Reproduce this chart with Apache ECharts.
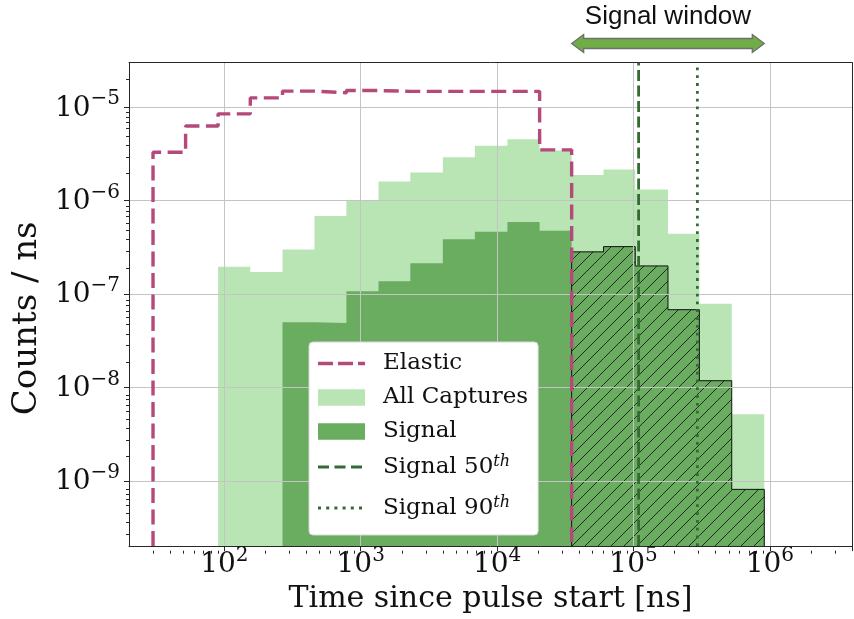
<!DOCTYPE html>
<html>
<head>
<meta charset="utf-8">
<script src="https://cdn.jsdelivr.net/npm/echarts@6/dist/echarts.min.js"></script>
<style>
  html, body { margin: 0; padding: 0; background: #ffffff; }
  #chart { width: 854px; height: 619px; }
</style>
</head>
<body>
<div id="chart"></div>
<script>
// Histogram bin edges [ns], shared by every histogram
const binEdges = [30, 52, 90, 155, 267, 458, 785, 1350, 2310, 4000, 6870, 11900,
                  20500, 35200, 60300, 103000, 179000, 304000, 525000, 910000];

// Rate in each bin [counts / ns]; null marks an empty bin
const elasticRate = [3.3e-6, 6.3e-6, 8.5e-6, 1.26e-5, 1.49e-5, 1.43e-5, 1.51e-5, 1.48e-5,
                     1.48e-5, 1.48e-5, 1.48e-5, 1.48e-5, 3.5e-6,
                     null, null, null, null, null, null];
const captureRate = [null, null, 1.96e-7, 1.72e-7, 2.99e-7, 6.87e-7, 9.9e-7, 1.6e-6,
                     2.0e-6, 2.92e-6, 3.86e-6, 4.54e-6, 3.45e-6,
                     1.88e-6, 2.15e-6, 1.32e-6, 4.43e-7, 7.87e-8, 5.16e-9];
const signalRate  = [null, null, null, null, 5.0e-8, 4.9e-8, 1.07e-7, 1.37e-7,
                     2.14e-7, 3.85e-7, 4.65e-7, 5.89e-7, 4.77e-7,
                     2.83e-7, 3.22e-7, 2.0e-7, 6.8e-8, 1.18e-8, 8.1e-10];

// Signal time window [ns] and signal arrival-time percentiles [ns]
const signalWindow = [35200, 910000];
const signal50th = 1.09e5;
const signal90th = 2.94e5;

// Axis ranges and labelled ticks
const xRange = [20, 4e6];
const yRange = [2e-10, 3e-5];
const xTicks = [1e2, 1e3, 1e4, 1e5, 1e6];
const yTicks = [1e-9, 1e-8, 1e-7, 1e-6, 1e-5];

// ---------------------------------------------------------------------------
const COLORS = {
  elastic: '#b4497a',
  capture: '#b9e5b4',
  signal: '#6aad60',
  percentile: '#346b34',
  hatch: '#1a1a1a',
  grid: '#c4c4c4',
  axis: '#262626'
};
const SERIF = "'DejaVu Serif', serif";

// Minor log ticks (2..9 x 10^n) inside a range
function minorTicks(range) {
  const out = [];
  const lo = Math.floor(Math.log10(range[0])), hi = Math.ceil(Math.log10(range[1]));
  for (let n = lo; n <= hi; n++) {
    for (let k = 2; k <= 9; k++) {
      const v = k * Math.pow(10, n);
      if (v > range[0] * 1.0001 && v < range[1] * 0.9999) out.push(v);
    }
  }
  return out;
}

// Step outline of a histogram (bins fully inside [lo, hi]), closed down to the axis floor
function stepPoints(values, lo, hi) {
  const pts = [];
  for (let i = 0; i < values.length; i++) {
    const v = values[i];
    if (v == null || binEdges[i] < lo || binEdges[i + 1] > hi) continue;
    if (!pts.length) pts.push([binEdges[i], yRange[0]]);
    pts.push([binEdges[i], v], [binEdges[i + 1], v]);
  }
  if (pts.length) pts.push([pts[pts.length - 1][0], yRange[0]]);
  return pts;
}

// Bins [lo, hi, value] inside the signal window
function windowBins() {
  const out = [];
  for (let i = 0; i < signalRate.length; i++) {
    if (signalRate[i] == null) continue;
    if (binEdges[i] >= signalWindow[0] && binEdges[i + 1] <= signalWindow[1]) {
      out.push([binEdges[i], binEdges[i + 1], signalRate[i]]);
    }
  }
  return out;
}

// "10^n" tick labels
function powLabel(value) {
  const e = Math.round(Math.log10(value));
  return '{b|10}{s|' + (e < 0 ? '\u2212' + (-e) : e) + '}';
}
const powRich = {
  b: { fontFamily: SERIF, fontSize: 28, lineHeight: 30, color: '#111', verticalAlign: 'bottom' },
  s: { fontFamily: SERIF, fontSize: 20, lineHeight: 20, color: '#111', verticalAlign: 'bottom', padding: [0, 0, 13, 0] }
};

// Legend icons as paths inside a 60 x 17 box (corner specks fix the box size)
function legendIcon(segments, thick) {
  const W = 60, H = 17, y0 = (H - thick) / 2;
  let d = 'M0,0h0.01v0.01h-0.01z M' + (W - 0.01) + ',' + (H - 0.01) + 'h0.01v0.01h-0.01z';
  segments.forEach(function (s) {
    d += ' M' + s[0] + ',' + y0 + 'H' + s[1] + 'V' + (y0 + thick) + 'H' + s[0] + 'Z';
  });
  return 'path://' + d;
}
const dots90 = [0, 8.2, 16.4, 24.6, 32.8, 41].map(function (x) { return [x, x + 3]; });

const gridRect = { left: 129, top: 62.7, width: 723, height: 488 };

// Frame-only axis (spine) for the top and right edges
function spine(pos, range) {
  return {
    type: 'log', logBase: 10, gridIndex: 1, position: pos, min: range[0], max: range[1], z: 2,
    axisLine: { show: true, onZero: false, lineStyle: { color: COLORS.axis, width: 1 } },
    axisTick: { show: false }, axisLabel: { show: false }, splitLine: { show: false }
  };
}
// Axis carrying only the minor ticks
function minorAxis(pos, range) {
  return {
    type: 'log', logBase: 10, gridIndex: 1, position: pos, min: range[0], max: range[1], z: 2,
    axisLine: { show: false },
    axisTick: { show: true, customValues: minorTicks(range), length: 3, lineStyle: { color: COLORS.axis, width: 1 } },
    axisLabel: { show: false }, splitLine: { show: false }
  };
}

const chart = echarts.init(document.getElementById('chart'), null, { renderer: 'canvas' });

chart.setOption({
  animation: false,
  backgroundColor: '#ffffff',
  textStyle: { fontFamily: SERIF },
  grid: [
    Object.assign({ show: false }, gridRect),
    Object.assign({ show: false }, gridRect)
  ],
  xAxis: [
    {
      type: 'log', logBase: 10, gridIndex: 0, position: 'bottom', min: xRange[0], max: xRange[1], z: 2,
      axisLine: { show: true, onZero: false, lineStyle: { color: COLORS.axis, width: 1 } },
      axisTick: { show: true, customValues: xTicks, length: 5, lineStyle: { color: COLORS.axis, width: 1 } },
      axisLabel: { customValues: xTicks, formatter: powLabel, margin: 3, rich: powRich },
      splitLine: { show: true, lineStyle: { color: COLORS.grid, width: 1 } },
      name: 'Time since pulse start [ns]', nameLocation: 'middle', nameGap: 26,
      nameTextStyle: { fontFamily: SERIF, fontSize: 30, color: '#111' }
    },
    minorAxis('bottom', xRange),
    spine('top', xRange)
  ],
  yAxis: [
    {
      type: 'log', logBase: 10, gridIndex: 0, position: 'left', min: yRange[0], max: yRange[1], z: 2,
      axisLine: { show: true, onZero: false, lineStyle: { color: COLORS.axis, width: 1 } },
      axisTick: { show: true, customValues: yTicks, length: 5, lineStyle: { color: COLORS.axis, width: 1 } },
      axisLabel: { customValues: yTicks, formatter: powLabel, margin: 9, rich: powRich },
      splitLine: { show: true, lineStyle: { color: COLORS.grid, width: 1 } },
      name: 'Counts / ns', nameLocation: 'middle', nameGap: 78,
      nameTextStyle: { fontFamily: SERIF, fontSize: 34, color: '#111', padding: [0, 28, 0, 0] }
    },
    minorAxis('left', yRange),
    spine('right', yRange)
  ],
  legend: {
    orient: 'vertical', left: 309, top: 342, z: 10,
    padding: [10, 10, 10, 9], itemGap: 11, itemWidth: 60, itemHeight: 17,
    backgroundColor: '#ffffff', borderColor: '#d6d6d6', borderWidth: 1, borderRadius: 4,
    selectedMode: false,
    formatter: function (name) {
      const m = name.match(/^(.*\d)(th)$/);
      return m ? '{t|' + m[1] + '}{sup|' + m[2] + '}' : '{t|' + name + '}';
    },
    textStyle: {
      fontFamily: SERIF, fontSize: 23, color: '#111',
      rich: {
        t: { fontFamily: SERIF, fontSize: 23, lineHeight: 26, color: '#111', verticalAlign: 'middle' },
        sup: { fontFamily: SERIF, fontSize: 16, fontStyle: 'italic', lineHeight: 20, color: '#111', verticalAlign: 'top', padding: [0, 0, 14, 0] }
      }
    },
    data: [
      { name: 'Elastic', icon: legendIcon([[0, 15], [20, 35], [40, 47]], 3.4), itemStyle: { color: COLORS.elastic, borderWidth: 0 } },
      { name: 'All Captures', icon: legendIcon([[0, 47]], 16.5), itemStyle: { color: COLORS.capture, borderWidth: 0 } },
      { name: 'Signal', icon: legendIcon([[0, 47]], 16.5), itemStyle: { color: COLORS.signal, borderWidth: 0 } },
      { name: 'Signal 50th', icon: legendIcon([[0, 11], [16.5, 27.5], [33, 44]], 2.8), itemStyle: { color: COLORS.percentile, borderWidth: 0 } },
      { name: 'Signal 90th', icon: legendIcon(dots90, 3), itemStyle: { color: COLORS.percentile, borderWidth: 0 } }
    ]
  },
  series: [
    {
      name: 'All Captures', type: 'line', xAxisIndex: 0, yAxisIndex: 0, z: 1,
      data: stepPoints(captureRate, 0, Infinity), symbol: 'none', silent: true,
      color: COLORS.capture,
      lineStyle: { width: 0 },
      areaStyle: { color: COLORS.capture, opacity: 1, origin: 'start' }
    },
    {
      name: 'Signal', type: 'line', xAxisIndex: 0, yAxisIndex: 0, z: 1,
      data: stepPoints(signalRate, 0, Infinity), symbol: 'none', silent: true,
      color: COLORS.signal,
      lineStyle: { width: 0 },
      areaStyle: { color: COLORS.signal, opacity: 1, origin: 'start' }
    },
    {
      // diagonal hatching over the signal-window bins
      name: 'window hatch', type: 'custom', xAxisIndex: 0, yAxisIndex: 0, z: 1, silent: true,
      data: windowBins(), encode: { x: [0, 1], y: 2 }, clip: true,
      renderItem: function (params, api) {
        const top = api.coord([api.value(0), api.value(2)]);
        const bot = api.coord([api.value(1), yRange[0]]);
        const x0 = top[0], x1 = bot[0], y0 = top[1], y1 = bot[1];
        const spacing = 13;
        const children = [];
        for (let c = Math.ceil((x0 + y0) / spacing) * spacing; c <= x1 + y1; c += spacing) {
          const xa = Math.max(x0, c - y1), xb = Math.min(x1, c - y0);
          if (xb > xa) {
            children.push({
              type: 'line',
              shape: { x1: xa, y1: c - xa, x2: xb, y2: c - xb },
              style: { stroke: COLORS.hatch, lineWidth: 0.9 }
            });
          }
        }
        return { type: 'group', children: children };
      }
    },
    {
      name: 'window outline', type: 'line', xAxisIndex: 0, yAxisIndex: 0, z: 1,
      data: stepPoints(signalRate, signalWindow[0], signalWindow[1]), symbol: 'none', silent: true,
      lineStyle: { color: '#111', width: 1 }
    },
    {
      name: 'Elastic', type: 'line', xAxisIndex: 0, yAxisIndex: 0, z: 3,
      data: stepPoints(elasticRate, 0, Infinity), symbol: 'none', silent: true,
      color: COLORS.elastic,
      lineStyle: { color: COLORS.elastic, width: 3.4, type: [15, 6.5], cap: 'butt' }
    },
    {
      name: 'Signal 50th', type: 'line', xAxisIndex: 0, yAxisIndex: 0, z: 3,
      data: [[signal50th, yRange[0]], [signal50th, yRange[1]]], symbol: 'none', silent: true,
      color: COLORS.percentile,
      lineStyle: { color: COLORS.percentile, width: 2.8, type: [11, 4.5] }
    },
    {
      name: 'Signal 90th', type: 'line', xAxisIndex: 0, yAxisIndex: 0, z: 3,
      data: [[signal90th, yRange[0]], [signal90th, yRange[1]]], symbol: 'none', silent: true,
      color: COLORS.percentile,
      lineStyle: { color: COLORS.percentile, width: 2.8, type: [2.8, 5] }
    },
    {
      // double-headed arrow marking the signal window above the plot
      name: 'window arrow', type: 'custom', xAxisIndex: 0, yAxisIndex: 0, z: 5, silent: true,
      data: [[signalWindow[0], signalWindow[1], yRange[1]]], encode: { x: [0, 1], y: 2 }, clip: false,
      renderItem: function (params, api) {
        const xa = api.coord([api.value(0), yRange[1]])[0];
        const xb = api.coord([api.value(1), yRange[1]])[0];
        const yc = 43.5, head = 12, hh = 9, sh = 5;
        const pts = [[xa, yc], [xa + head, yc - hh], [xa + head, yc - sh], [xb - head, yc - sh],
                     [xb - head, yc - hh], [xb, yc], [xb - head, yc + hh], [xb - head, yc + sh],
                     [xa + head, yc + sh], [xa + head, yc + hh]];
        return {
          type: 'group',
          children: [
            { type: 'polygon', shape: { points: pts }, style: { fill: '#70ad47', stroke: '#6f6f6f', lineWidth: 1.3 } },
            {
              type: 'text',
              style: {
                text: 'Signal window', x: (xa + xb) / 2, y: 17,
                align: 'center', verticalAlign: 'middle',
                fontFamily: "'Liberation Sans', Arial, sans-serif", fontSize: 26, fill: '#111'
              }
            }
          ]
        };
      }
    }
  ]
});
</script>
</body>
</html>
